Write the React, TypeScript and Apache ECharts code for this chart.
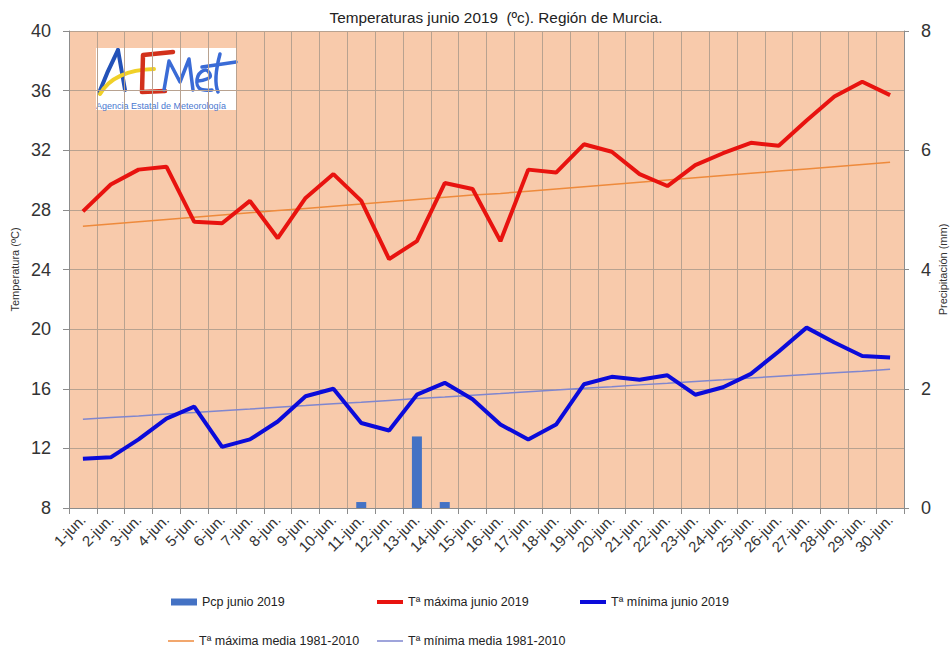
import React, { useEffect, useRef } from "react";
import * as echarts from "echarts";

const categories = [
  "1-jun.", "2-jun.", "3-jun.", "4-jun.", "5-jun.", "6-jun.", "7-jun.", "8-jun.", "9-jun.", "10-jun.",
  "11-jun.", "12-jun.", "13-jun.", "14-jun.", "15-jun.", "16-jun.", "17-jun.", "18-jun.", "19-jun.", "20-jun.",
  "21-jun.", "22-jun.", "23-jun.", "24-jun.", "25-jun.", "26-jun.", "27-jun.", "28-jun.", "29-jun.", "30-jun.",
];

const pcp = [0, 0, 0, 0, 0, 0, 0, 0, 0, 0, 0.1, 0, 1.2, 0.1, 0, 0, 0, 0, 0, 0, 0, 0, 0, 0, 0, 0, 0, 0, 0, 0];

const tmax = [
  27.9, 29.7, 30.7, 30.9, 27.2, 27.1, 28.6, 26.1, 28.8, 30.4,
  28.6, 24.7, 25.9, 29.8, 29.4, 25.9, 30.7, 30.5, 32.4, 31.9,
  30.4, 29.6, 31.0, 31.8, 32.5, 32.3, 34.0, 35.6, 36.6, 35.7,
];

const tmin = [
  11.3, 11.4, 12.6, 14.0, 14.8, 12.1, 12.6, 13.8, 15.5, 16.0,
  13.7, 13.2, 15.6, 16.4, 15.3, 13.6, 12.6, 13.6, 16.3, 16.8,
  16.6, 16.9, 15.6, 16.1, 17.0, 18.5, 20.1, 19.1, 18.2, 18.1,
];

const tmaxMedia = [
  26.9, 27.05, 27.2, 27.35, 27.5, 27.65, 27.8, 27.95, 28.1, 28.25,
  28.4, 28.55, 28.7, 28.85, 29.0, 29.1, 29.25, 29.4, 29.55, 29.7,
  29.85, 30.0, 30.15, 30.3, 30.45, 30.6, 30.75, 30.9, 31.05, 31.2,
];

const tminMedia = [
  13.95, 14.07, 14.18, 14.3, 14.41, 14.53, 14.64, 14.76, 14.87, 14.99,
  15.1, 15.22, 15.34, 15.45, 15.57, 15.68, 15.8, 15.91, 16.03, 16.14,
  16.26, 16.37, 16.49, 16.6, 16.72, 16.84, 16.95, 17.07, 17.18, 17.3,
];

const leftTicks = { min: 8, max: 40, interval: 4 };
const rightTicks = { min: 0, max: 8, interval: 2 };

const TITLE = "Temperaturas junio 2019  (ºc). Región de Murcia.";
const NAMES = {
  pcp: "Pcp junio 2019",
  tmax: "Tª máxima junio 2019",
  tmin: "Tª mínima junio 2019",
  tmaxMedia: "Tª máxima media 1981-2010",
  tminMedia: "Tª mínima media 1981-2010",
};

const FONT = "'Liberation Sans', Arial, sans-serif";
const GRID_COLOR = "#b8a290";
const AXIS_COLOR = "#8c8c8c";

function logo() {
  const blue = "#2352b8";
  const blue2 = "#3a6bd6";
  const stroke = (c: string, w: number) => ({ stroke: c, lineWidth: w, fill: null, lineCap: "round", lineJoin: "round" });
  return {
    type: "group",
    x: 96,
    y: 48,
    children: [
      { type: "rect", shape: { x: 0, y: 0, width: 141, height: 62 }, style: { fill: "#ffffff" } },
      { type: "bezierCurve", shape: { x1: 3, y1: 45, cpx1: 11, cpy1: 24, x2: 22, y2: 2 }, style: stroke(blue, 4) },
      { type: "line", shape: { x1: 22, y1: 2, x2: 29, y2: 42 }, style: stroke(blue, 4) },
      { type: "bezierCurve", shape: { x1: 4, y1: 46, cpx1: 18, cpy1: 22, x2: 58, y2: 21 }, style: stroke("#f0d028", 4) },
      { type: "polyline", shape: { points: [[77, 4], [47, 7], [46, 44], [69, 43]] }, style: stroke("#d2311c", 4.5) },
      { type: "polyline", shape: { points: [[68, 42], [73, 13], [84, 34], [93, 11], [97, 42]] }, style: stroke(blue2, 3.5) },
      { type: "polyline", shape: { points: [[102, 33], [114, 29], [110, 22], [102, 28], [103, 40], [116, 42]], smooth: 0.4 }, style: stroke(blue2, 3.5) },
      { type: "bezierCurve", shape: { x1: 124, y1: 6, cpx1: 117, cpy1: 32, x2: 122, y2: 44 }, style: stroke(blue2, 3.5) },
      { type: "line", shape: { x1: 106, y1: 19, x2: 140, y2: 14 }, style: stroke(blue2, 3.5) },
      {
        type: "text",
        x: 0,
        y: 53,
        style: { text: "Agencia Estatal de Meteorología", fontSize: 9, fill: "#4a78d0", fontFamily: FONT },
      },
    ],
  };
}

export default function App() {
  const ref = useRef<HTMLDivElement>(null);

  useEffect(() => {
    if (!ref.current) return;
    const chart = echarts.init(ref.current, null, { renderer: "svg" });
    const legendBase = {
      orient: "horizontal",
      padding: 0,
      itemWidth: 26,
      textStyle: { fontSize: 12.5, color: "#222", fontFamily: FONT, lineHeight: 14 },
      selectedMode: false,
    };
    chart.setOption({
      animation: false,
      backgroundColor: "#ffffff",
      textStyle: { fontFamily: FONT },
      graphic: [
        {
          type: "text",
          x: 496,
          y: 17,
          style: {
            text: TITLE,
            fontSize: 15.3,
            fill: "#222",
            fontFamily: FONT,
            textAlign: "center",
            textVerticalAlign: "middle",
          },
          z: 10,
        },
        logo(),
      ],
      legend: [
        { ...legendBase, left: 171, top: 595, itemHeight: 7, data: [{ name: NAMES.pcp, icon: "rect" }] },
        { ...legendBase, left: 377, top: 595, itemHeight: 4, data: [{ name: NAMES.tmax, icon: "rect" }] },
        { ...legendBase, left: 580, top: 595, itemHeight: 4, data: [{ name: NAMES.tmin, icon: "rect" }] },
        { ...legendBase, left: 168, top: 634, itemHeight: 1.5, data: [{ name: NAMES.tmaxMedia, icon: "rect" }] },
        { ...legendBase, left: 377, top: 634, itemHeight: 1.5, data: [{ name: NAMES.tminMedia, icon: "rect" }] },
      ],
      grid: {
        left: 69,
        right: 47,
        top: 31,
        bottom: 142,
        show: true,
        backgroundColor: "#F8CAAB",
        borderWidth: 0,
        containLabel: false,
        outerBoundsMode: "none",
      },
      xAxis: {
        type: "category",
        data: categories,
        boundaryGap: true,
        axisLine: { show: true, lineStyle: { color: AXIS_COLOR, width: 1 } },
        axisTick: { show: true, length: 6, lineStyle: { color: AXIS_COLOR } },
        splitLine: { show: true, lineStyle: { color: GRID_COLOR, width: 1 } },
        axisLabel: {
          rotate: 45,
          interval: 0,
          margin: 9,
          fontSize: 15,
          color: "#333",
          fontFamily: FONT,
        },
      },
      yAxis: [
        {
          type: "value",
          ...leftTicks,
          name: "Temperatura (ºC)",
          nameLocation: "middle",
          nameRotate: 90,
          nameGap: 46,
          nameTextStyle: { fontSize: 11, color: "#333", fontFamily: FONT },
          axisLine: { show: true, lineStyle: { color: AXIS_COLOR } },
          axisTick: { show: true, length: 6, lineStyle: { color: AXIS_COLOR } },
          splitLine: { show: true, lineStyle: { color: GRID_COLOR, width: 1 } },
          axisLabel: { fontSize: 18, color: "#333", margin: 18, fontFamily: FONT },
        },
        {
          type: "value",
          ...rightTicks,
          position: "right",
          name: "Precipitación (mm)",
          nameLocation: "middle",
          nameRotate: 90,
          nameGap: 33,
          nameMoveOverlap: false,
          nameTextStyle: { fontSize: 11, color: "#333", fontFamily: FONT },
          axisLine: { show: true, lineStyle: { color: AXIS_COLOR } },
          axisTick: { show: true, length: 5, lineStyle: { color: AXIS_COLOR } },
          splitLine: { show: false },
          axisLabel: { fontSize: 18, color: "#333", margin: 17, fontFamily: FONT },
        },
      ],
      series: [
        {
          name: NAMES.pcp,
          type: "bar",
          yAxisIndex: 1,
          data: pcp,
          barWidth: 10,
          itemStyle: { color: "#4472C4" },
          z: 2,
        },
        {
          name: NAMES.tmaxMedia,
          type: "line",
          data: tmaxMedia,
          symbol: "none",
          lineStyle: { color: "#EE8A3C", width: 1.5 },
          itemStyle: { color: "#EE8A3C" },
          z: 3,
        },
        {
          name: NAMES.tminMedia,
          type: "line",
          data: tminMedia,
          symbol: "none",
          lineStyle: { color: "#7F86CF", width: 1.5 },
          itemStyle: { color: "#7F86CF" },
          z: 3,
        },
        {
          name: NAMES.tmax,
          type: "line",
          data: tmax,
          symbol: "none",
          lineStyle: { color: "#E8130F", width: 4 },
          itemStyle: { color: "#E8130F" },
          z: 4,
        },
        {
          name: NAMES.tmin,
          type: "line",
          data: tmin,
          symbol: "none",
          lineStyle: { color: "#0B0BDA", width: 4 },
          itemStyle: { color: "#0B0BDA" },
          z: 4,
        },
      ],
    });
    return () => chart.dispose();
  }, []);

  return (
    <div
      ref={ref}
      style={{ position: "absolute", left: 0, top: 0, width: 951, height: 650 }}
    />
  );
}
